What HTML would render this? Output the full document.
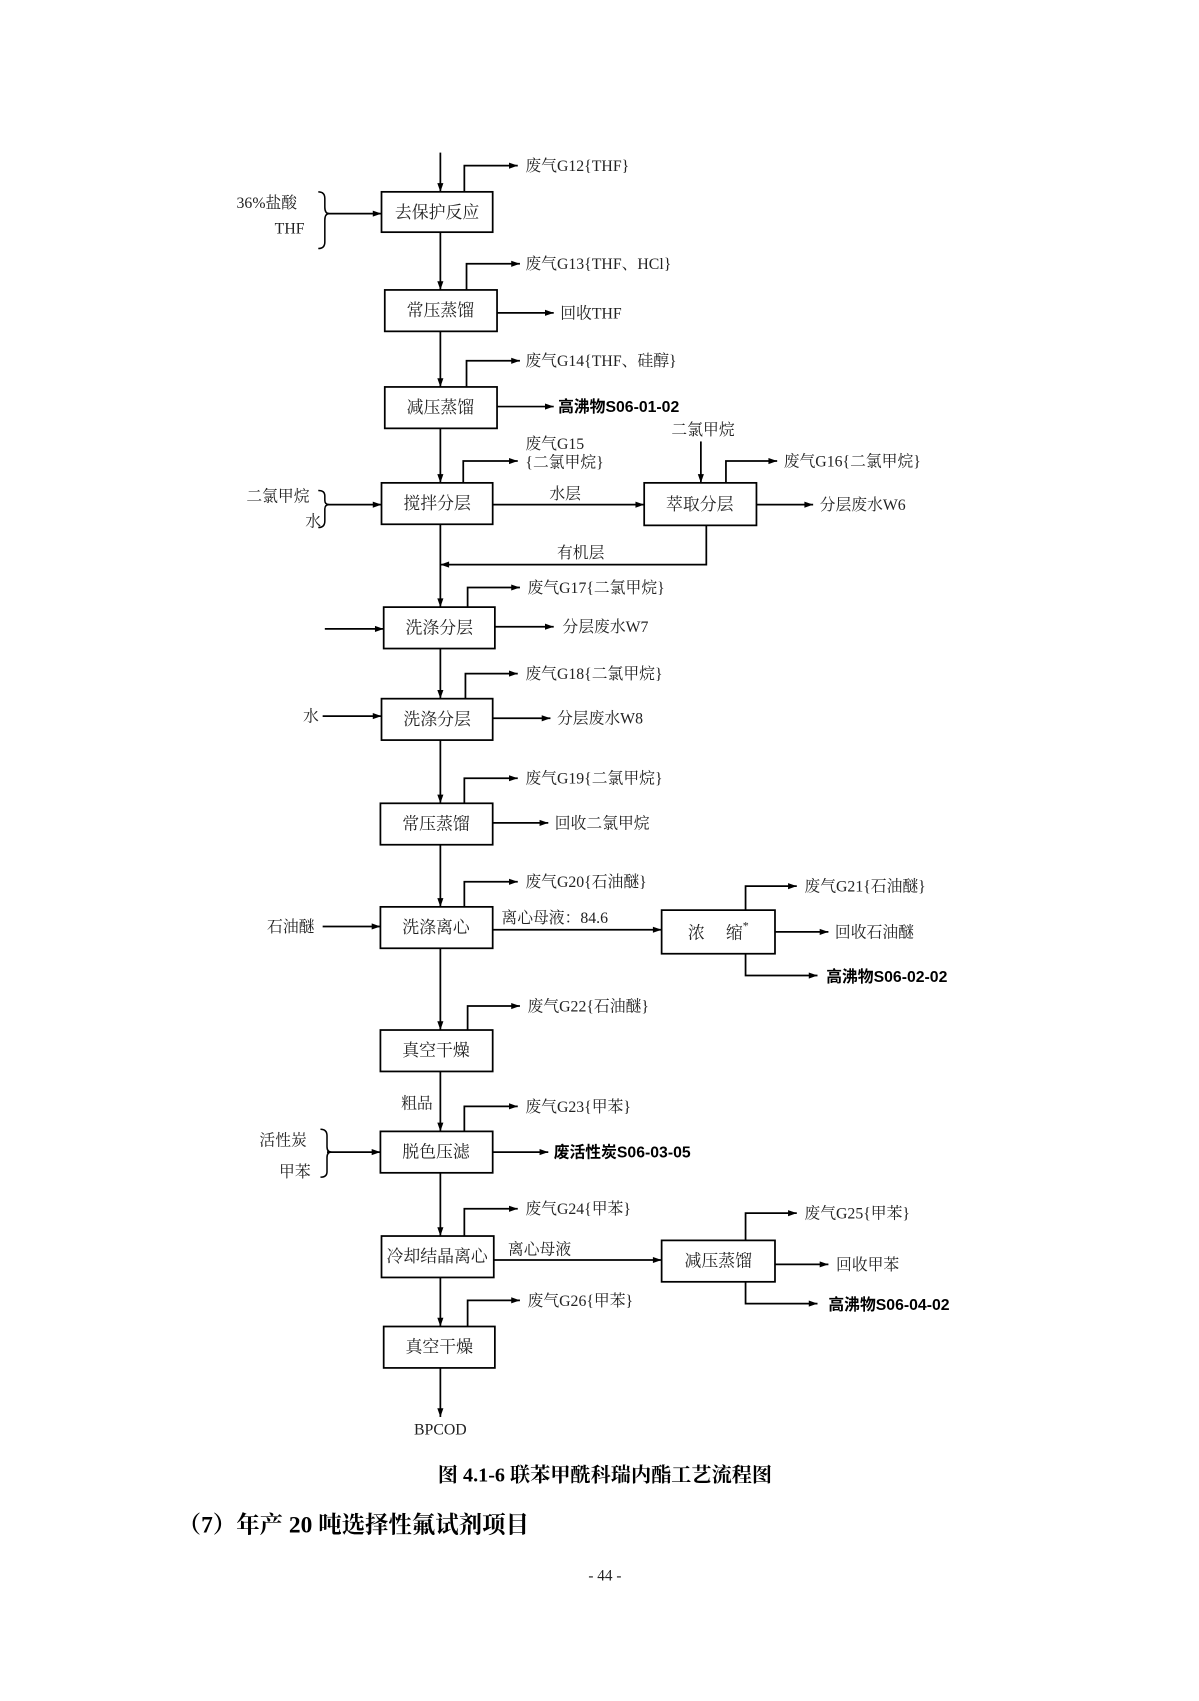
<!DOCTYPE html>
<html><head><meta charset="utf-8"><style>
html,body{margin:0;padding:0;background:#fff;}
svg text{font-family:"Liberation Serif","Noto Serif CJK SC",serif;font-size:14.5px;fill:#222;}
svg .b{font-family:"Liberation Sans","Noto Sans CJK SC",sans-serif;font-weight:bold;font-size:14.5px;fill:#000;}
svg .bx{font-size:15.5px;}
</style></head><body>
<svg width="1199" height="1696" viewBox="0 0 1100 1556" xmlns="http://www.w3.org/2000/svg">
<defs>
<marker id="ah" viewBox="0 0 10 10" refX="10" refY="5" markerWidth="16" markerHeight="8" orient="auto" markerUnits="userSpaceOnUse"><path d="M0,1.5 L10,5 L0,8.5 Z" fill="#000"/></marker></defs>
<g transform="translate(-2,0)">
<g stroke="#000" stroke-width="1.6" fill="none">
<rect x="352" y="176" width="102" height="37"/>
<rect x="355" y="266" width="103" height="38"/>
<rect x="355" y="355" width="103" height="38"/>
<rect x="352" y="443" width="102" height="38"/>
<rect x="593" y="443" width="103" height="39"/>
<rect x="354" y="557" width="102" height="38"/>
<rect x="352" y="641" width="102" height="38"/>
<rect x="351" y="737" width="103" height="38"/>
<rect x="351" y="832" width="103" height="38"/>
<rect x="609" y="835" width="104" height="40"/>
<rect x="351" y="945" width="103" height="38"/>
<rect x="351" y="1038" width="103" height="38"/>
<rect x="352" y="1134" width="103" height="38"/>
<rect x="609" y="1138" width="104" height="38"/>
<rect x="354" y="1217" width="102" height="38"/>
</g>
<g stroke="#000" stroke-width="1.6" fill="none" marker-end="url(#ah)">
<path d="M406,140 V176"/><path d="M406,213 V266"/><path d="M406,304 V355"/><path d="M406,393 V443"/>
<path d="M406,481 V557"/><path d="M406,595 V641"/><path d="M406,679 V737"/><path d="M406,775 V832"/>
<path d="M406,870 V945"/><path d="M406,983 V1038"/><path d="M406,1076 V1134"/><path d="M406,1172 V1217"/><path d="M406,1255 V1300"/>
<path d="M428,176 V152 H477"/><path d="M430,266 V242 H479"/><path d="M430,355 V331 H479"/><path d="M427,443 V423 H477"/>
<path d="M668,443 V423 H715"/><path d="M431,557 V539 H479"/><path d="M429,641 V618 H477"/><path d="M428,737 V714 H477"/>
<path d="M428,832 V809 H477"/><path d="M686,835 V813 H733"/><path d="M431,945 V923 H479"/><path d="M428,1038 V1015 H477"/>
<path d="M428,1134 V1109 H477"/><path d="M686,1138 V1113 H733"/><path d="M431,1217 V1193 H479"/>
<path d="M458,287 H510"/><path d="M458,373 H510"/><path d="M454,463 H593"/><path d="M696,463 H748"/>
<path d="M645,405 V443"/><path d="M650,482 V518 H406"/>
<path d="M300,577 H354"/><path d="M456,575 H510"/><path d="M298,657 H352"/><path d="M454,659 H507"/>
<path d="M454,755 H505"/><path d="M298,850 H351"/><path d="M454,853 H609"/><path d="M713,855 H762"/><path d="M686,875 V895 H752"/>
<path d="M302,1057 H351"/><path d="M454,1057 H505"/><path d="M455,1156 H609"/><path d="M713,1160 H762"/><path d="M686,1176 V1196 H752"/>
<path d="M302,196 H352"/><path d="M302,463 H352"/>
</g>
<g stroke="#000" stroke-width="1.4" fill="none">
<path d="M294,176 Q300,176 300,182 V190 Q300,196 304,196 Q300,196 300,202 V222 Q300,228 294,228"/>
<path d="M294,450 Q300,450 300,455 V459 Q300,463 304,463 Q300,463 300,467 V478 Q300,484 294,484"/>
<path d="M296,1036 Q302,1036 302,1042 V1052 Q302,1057 306,1057 Q302,1057 302,1062 V1075 Q302,1080 296,1080"/>
</g>
<g text-anchor="middle">
<text x="403" y="200" class="bx">去保护反应</text>
<text x="406" y="290" class="bx">常压蒸馏</text>
<text x="406" y="379" class="bx">减压蒸馏</text>
<text x="403" y="467" class="bx">搅拌分层</text>
<text x="644" y="468" class="bx">萃取分层</text>
<text x="405" y="581" class="bx">洗涤分层</text>
<text x="403" y="665" class="bx">洗涤分层</text>
<text x="402" y="761" class="bx">常压蒸馏</text>
<text x="402" y="856" class="bx">洗涤离心</text>
<text x="661" y="861" class="bx">浓&#160;&#160;&#160;&#160;&#160;缩<tspan dy="-8" font-size="11">*</tspan></text>
<text x="402" y="969" class="bx">真空干燥</text>
<text x="402" y="1062" class="bx">脱色压滤</text>
<text x="403" y="1158" class="bx">冷却结晶离心</text>
<text x="661" y="1162" class="bx">减压蒸馏</text>
<text x="405" y="1241" class="bx">真空干燥</text>
<text x="406" y="1316">BPCOD</text>
</g>
<text x="484" y="157">废气G12{THF}</text>
<text x="484" y="247">废气G13{THF、HCl}</text>
<text x="516" y="292">回收THF</text>
<text x="484" y="336">废气G14{THF、硅醇}</text>
<text x="514" y="378" class="b">高沸物S06-01-02</text>
<text x="484" y="412">废气G15</text>
<text x="484" y="429">{二氯甲烷}</text>
<text x="618" y="399">二氯甲烷</text>
<text x="721" y="428">废气G16{二氯甲烷}</text>
<text x="506" y="458">水层</text>
<text x="754" y="468">分层废水W6</text>
<text x="513" y="512">有机层</text>
<text x="486" y="544">废气G17{二氯甲烷}</text>
<text x="518" y="580">分层废水W7</text>
<text x="484" y="623">废气G18{二氯甲烷}</text>
<text x="513" y="664">分层废水W8</text>
<text x="484" y="719">废气G19{二氯甲烷}</text>
<text x="511" y="760">回收二氯甲烷</text>
<text x="484" y="814">废气G20{石油醚}</text>
<text x="462" y="847">离心母液：84.6</text>
<text x="740" y="818">废气G21{石油醚}</text>
<text x="768" y="860">回收石油醚</text>
<text x="760" y="901" class="b">高沸物S06-02-02</text>
<text x="486" y="928">废气G22{石油醚}</text>
<text x="370" y="1017">粗品</text>
<text x="484" y="1020">废气G23{甲苯}</text>
<text x="510" y="1062" class="b">废活性炭S06-03-05</text>
<text x="484" y="1114">废气G24{甲苯}</text>
<text x="468" y="1151">离心母液</text>
<text x="740" y="1118">废气G25{甲苯}</text>
<text x="769" y="1165">回收甲苯</text>
<text x="762" y="1202" class="b">高沸物S06-04-02</text>
<text x="486" y="1198">废气G26{甲苯}</text>
<text x="219" y="191">36%盐酸</text>
<text x="254" y="214">THF</text>
<text x="228" y="460">二氯甲烷</text>
<text x="282" y="483">水</text>
<text x="280" y="662">水</text>
<text x="247" y="855">石油醚</text>
<text x="240" y="1051">活性炭</text>
<text x="258" y="1080">甲苯</text>
</g>
<text x="555" y="1359" text-anchor="middle" style="font-weight:bold;font-size:18.5px;fill:#000">图 4.1-6 联苯甲酰科瑞内酯工艺流程图</text>
<text x="163" y="1406" style="font-weight:bold;font-size:21.5px;fill:#000">（7）年产 20 吨选择性氟试剂项目</text>
<text x="555" y="1450" text-anchor="middle" style="font-size:14px">- 44 -</text>
</svg>
</body></html>
